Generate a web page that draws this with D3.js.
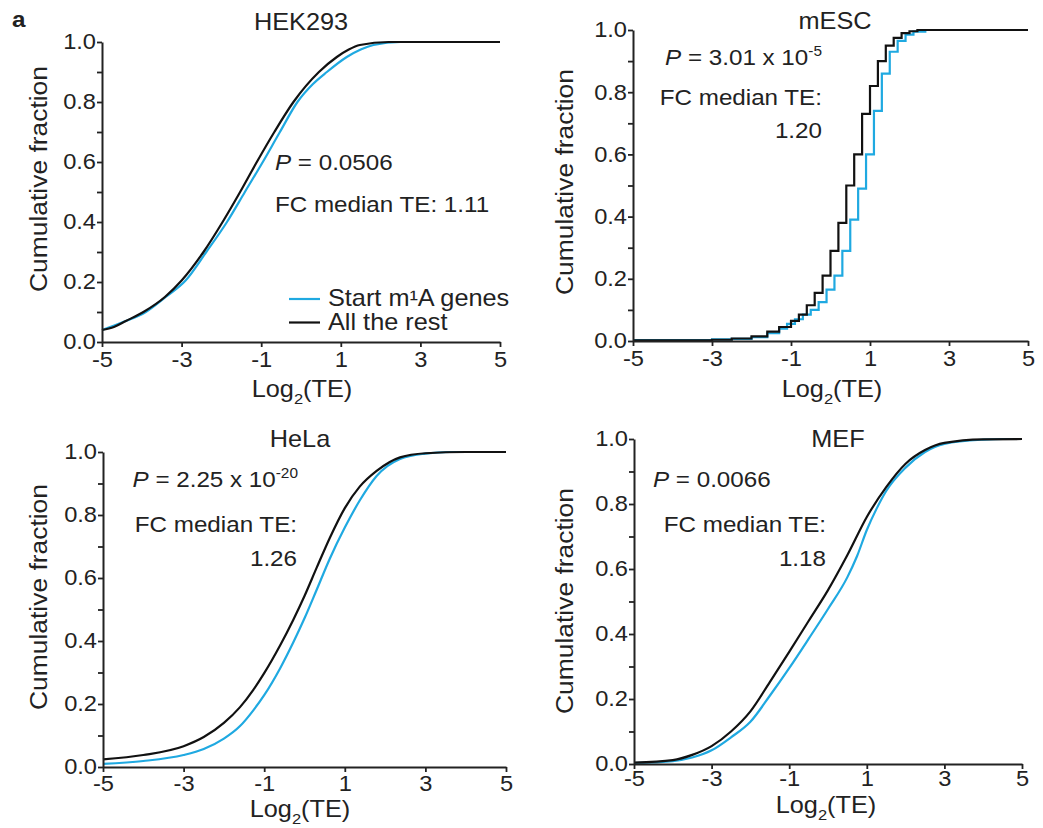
<!DOCTYPE html>
<html>
<head>
<meta charset="utf-8">
<title>Cumulative fraction of Log2(TE)</title>
<script src="https://d3js.org/d3.v7.min.js"></script>
<style>
  body { margin: 0; background: #fff; }
  svg { font-family: "Liberation Sans", Arial, Helvetica, sans-serif; }
</style>
</head>
<body>
<svg id="chart" width="1043" height="828"></svg>
<script>
// [Log2(TE), cumulative fraction]
const hekStart = [[-5, 0.04], [-4.5, 0.065], [-3.9, 0.1], [-3.4, 0.15], [-2.9, 0.205], [-2.38, 0.3], [-1.86, 0.4],
  [-1.41, 0.5], [-0.96, 0.6], [-0.53, 0.7], [-0.09, 0.8], [0.3, 0.86], [0.65, 0.9], [1.15, 0.95], [1.5, 0.975],
  [1.82, 0.99], [2.5, 1], [5, 1]];
const hekRest = [[-5, 0.04], [-4.7, 0.05], [-4.4, 0.07], [-3.96, 0.1], [-3.42, 0.15], [-3.0, 0.205], [-2.45, 0.3],
  [-1.97, 0.4], [-1.53, 0.5], [-1.11, 0.6], [-0.67, 0.7], [-0.19, 0.8], [0.45, 0.9], [0.9, 0.95], [1.2, 0.975],
  [1.48, 0.99], [2.2, 1], [5, 1]];

const mescStart = [[-5, 0.003], [-3, 0.005], [-2.5, 0.007], [-2, 0.012], [-1.6, 0.025], [-1.3, 0.04], [-1.1, 0.055],
  [-0.9, 0.07], [-0.7, 0.085], [-0.5, 0.1], [-0.3, 0.125], [-0.1, 0.165], [0.1, 0.21], [0.3, 0.29], [0.5, 0.39],
  [0.7, 0.49], [0.9, 0.6], [1.1, 0.74], [1.3, 0.86], [1.5, 0.93], [1.7, 0.965], [1.9, 0.985], [2.1, 0.995],
  [2.4, 1], [5, 1]];
const mescRest = [[-5, 0.002], [-3, 0.004], [-2.5, 0.008], [-2, 0.015], [-1.6, 0.03], [-1.3, 0.045], [-1.0, 0.065],
  [-0.8, 0.085], [-0.6, 0.115], [-0.4, 0.155], [-0.2, 0.21], [0, 0.29], [0.2, 0.38], [0.4, 0.5], [0.6, 0.6],
  [0.8, 0.73], [1.0, 0.82], [1.2, 0.9], [1.4, 0.95], [1.6, 0.975], [1.8, 0.99], [2.0, 0.996], [2.2, 1], [5, 1]];

const helaStart = [[-5, 0.01], [-4, 0.019], [-3, 0.038], [-2.5, 0.057], [-2, 0.09], [-1.6, 0.13], [-1.27, 0.18],
  [-1, 0.228], [-0.61, 0.312], [-0.28, 0.395], [0, 0.472], [0.3, 0.562], [0.63, 0.662], [1, 0.76], [1.37, 0.846],
  [1.79, 0.924], [2.37, 0.978], [3, 0.995], [3.6, 1], [5, 1]];
const helaRest = [[-5, 0.024], [-4, 0.038], [-3, 0.066], [-2.5, 0.095], [-2, 0.14], [-1.6, 0.19], [-1.27, 0.245],
  [-1, 0.298], [-0.61, 0.385], [-0.28, 0.467], [0, 0.543], [0.3, 0.632], [0.63, 0.728], [1, 0.822], [1.37, 0.89],
  [1.79, 0.94], [2.37, 0.983], [3, 0.996], [4, 1], [5, 1]];

const mefStart = [[-5, 0.003], [-4, 0.009], [-3.5, 0.02], [-3, 0.042], [-2.5, 0.082], [-2, 0.13], [-1.5, 0.21],
  [-1, 0.295], [-0.5, 0.385], [0, 0.477], [0.5, 0.575], [0.75, 0.64], [1.0, 0.72], [1.25, 0.785], [1.5, 0.84],
  [2, 0.912], [2.5, 0.96], [3, 0.985], [4, 0.998], [4.5, 1], [5, 1]];
const mefRest = [[-5, 0.004], [-4, 0.012], [-3.5, 0.028], [-3, 0.055], [-2.5, 0.1], [-2, 0.162], [-1.5, 0.252],
  [-1, 0.345], [-0.5, 0.44], [0, 0.535], [0.5, 0.643], [1, 0.76], [1.5, 0.852], [2, 0.924], [2.5, 0.966],
  [3, 0.988], [4, 0.999], [5, 1]];

const titles = ["HEK293", "mESC", "HeLa", "MEF"];
const pText = ["0.0506", "3.01 x 10", "2.25 x 10", "0.0066"];
const pExp = [null, "-5", "-20", null];
const fcText = ["1.11", "1.20", "1.26", "1.18"];
const seriesNames = ["Start m\u00B9A genes", "All the rest"];

const xTicks = [-5, -3, -1, 1, 3, 5];
const yTicks = [0, 0.1, 0.2, 0.3, 0.4, 0.5, 0.6, 0.7, 0.8, 0.9, 1];
const yLabels = [0, 0.2, 0.4, 0.6, 0.8, 1];

const blue = "#1fa9e1", black = "#111", ink = "#222";

// layout of the four panels (pixels)
const panels = [
  { start: hekStart, rest: hekRest, step: false, box: [102, 500, 42, 342], tickPad: 5,
    titleX: 301, titleY: 30, yLabX: 47, yLabY: 179, xLabX: 302, xLabY: 397,
    pAnchor: "start", pX: 275, pY: 170, fcAnchor: "start", fcX: 275, fcY: 212, valY: null, legend: true },
  { start: mescStart, rest: mescRest, step: true, box: [633, 1028, 30, 341], tickPad: 5,
    titleX: 835, titleY: 29, yLabX: 573, yLabY: 182, xLabX: 832, xLabY: 397,
    pAnchor: "end", pX: 822, pY: 65, fcAnchor: "end", fcX: 822, fcY: 105, valY: 138 },
  { start: helaStart, rest: helaRest, step: false, box: [103, 506, 452, 767], tickPad: 4,
    titleX: 300, titleY: 447, yLabX: 47, yLabY: 597, xLabX: 300, xLabY: 817,
    pAnchor: "end", pX: 298, pY: 487, fcAnchor: "end", fcX: 297, fcY: 532, valY: 566 },
  { start: mefStart, rest: mefRest, step: false, box: [634, 1022, 439, 764], tickPad: 2,
    titleX: 838, titleY: 447, yLabX: 573, yLabY: 601, xLabX: 826, xLabY: 813,
    pAnchor: "start", pX: 653, pY: 487, fcAnchor: "end", fcX: 826, fcY: 532, valY: 566 }
];

const svg = d3.select("#chart");

svg.append("text").attr("x", 12).attr("y", 27)
  .attr("font-size", 22).attr("font-weight", "bold").attr("fill", ink).text("a");

panels.forEach((p, i) => {
  const [x0, x1, y0, y1] = p.box;
  const x = d3.scaleLinear().domain([-5, 5]).range([x0, x1]);
  const y = d3.scaleLinear().domain([0, 1]).range([y1, y0]);
  const g = svg.append("g");

  const line = d3.line()
    .x(d => x(d[0]))
    .y(d => y(d[1]))
    .curve(p.step ? d3.curveStepAfter : d3.curveMonotoneX);

  g.append("path").datum(p.start).attr("d", line)
    .attr("fill", "none").attr("stroke", blue).attr("stroke-width", 2.2);
  g.append("path").datum(p.rest).attr("d", line)
    .attr("fill", "none").attr("stroke", black).attr("stroke-width", 2.2);

  const xa = g.append("g").attr("transform", `translate(0,${y1})`)
    .call(d3.axisBottom(x).tickValues(xTicks).tickSize(5).tickSizeOuter(0).tickPadding(p.tickPad)
      .tickFormat(d => String(d)));
  const ya = g.append("g").attr("transform", `translate(${x0},0)`)
    .call(d3.axisLeft(y).tickValues(yTicks).tickSize(5).tickSizeOuter(0).tickPadding(1)
      .tickFormat(d => yLabels.includes(d) ? d.toFixed(1) : ""));

  [xa, ya].forEach(a => {
    a.attr("font-family", null).attr("font-size", null);
    a.select(".domain").attr("stroke", ink).attr("stroke-width", 2);
    a.selectAll(".tick line").attr("stroke", ink).attr("stroke-width", 1.8);
    a.selectAll(".tick text").attr("fill", ink).attr("font-size", 21.5);
  });

  g.append("text").attr("x", p.titleX).attr("y", p.titleY)
    .attr("text-anchor", "middle").attr("font-size", 23).attr("fill", ink).text(titles[i]);

  g.append("text")
    .attr("transform", `translate(${p.yLabX},${p.yLabY}) rotate(-90)`)
    .attr("text-anchor", "middle").attr("font-size", 24).attr("fill", ink)
    .text("Cumulative fraction");

  const xl = g.append("text").attr("x", p.xLabX).attr("y", p.xLabY)
    .attr("text-anchor", "middle").attr("font-size", 23).attr("fill", ink);
  xl.append("tspan").text("Log");
  xl.append("tspan").attr("dy", 7).attr("font-size", 15).text("2");
  xl.append("tspan").attr("dy", -7).text("(TE)");

  const pt = g.append("text").attr("x", p.pX).attr("y", p.pY)
    .attr("text-anchor", p.pAnchor).attr("font-size", 22).attr("fill", ink);
  pt.append("tspan").attr("font-style", "italic").text("P");
  pt.append("tspan").text(" = " + pText[i]);
  if (pExp[i]) pt.append("tspan").attr("dy", -9).attr("font-size", 14).text(pExp[i]);

  if (p.valY === null) {
    g.append("text").attr("x", p.fcX).attr("y", p.fcY)
      .attr("text-anchor", p.fcAnchor).attr("font-size", 22).attr("fill", ink)
      .text("FC median TE: " + fcText[i]);
  } else {
    g.append("text").attr("x", p.fcX).attr("y", p.fcY)
      .attr("text-anchor", p.fcAnchor).attr("font-size", 22).attr("fill", ink)
      .text("FC median TE:");
    g.append("text").attr("x", p.fcX).attr("y", p.valY)
      .attr("text-anchor", "end").attr("font-size", 22).attr("fill", ink)
      .text(fcText[i]);
  }

  if (p.legend) {
    const items = [{ name: seriesNames[0], color: blue, y: 299 }, { name: seriesNames[1], color: black, y: 322.5 }];
    const lg = g.append("g");
    lg.selectAll("line").data(items).join("line")
      .attr("x1", 289).attr("x2", 320).attr("y1", d => d.y).attr("y2", d => d.y)
      .attr("stroke", d => d.color).attr("stroke-width", 2.2);
    lg.selectAll("text").data(items).join("text")
      .attr("x", 328).attr("y", d => d.y + 7.5)
      .attr("font-size", 23).attr("fill", ink).text(d => d.name);
  }
});

// the figure's lettering is a little wider than Arial: stretch each text along its baseline
svg.selectAll("text").each(function () {
  const b = this.getBBox();
  const anchor = getComputedStyle(this).textAnchor;
  const ax = anchor === "end" ? b.x + b.width : anchor === "middle" ? b.x + b.width / 2 : b.x;
  const t = this.getAttribute("transform") || "";
  this.setAttribute("transform", `${t} translate(${ax},0) scale(1.1,1) translate(${-ax},0)`);
});
</script>
</body>
</html>
